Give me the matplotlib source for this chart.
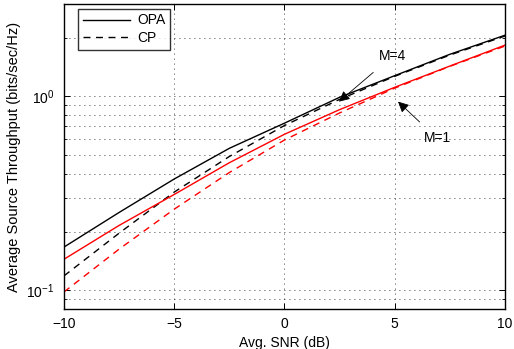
import matplotlib
matplotlib.use("Agg")
import matplotlib.pyplot as plt
from matplotlib.ticker import LogLocator, NullFormatter, FixedLocator
import numpy as np

plt.rcParams['font.family'] = ['Liberation Sans', 'DejaVu Sans']
plt.rcParams['mathtext.fontset'] = 'custom'
plt.rcParams['mathtext.rm'] = 'Liberation Sans'
plt.rcParams['mathtext.it'] = 'Liberation Sans'
plt.rcParams['mathtext.default'] = 'regular'

snr_db = [-10, -7.5, -5, -2.5, 0, 2.5, 5, 7.5, 10]
opa_m4 = [0.167, 0.252, 0.375, 0.54, 0.728, 0.99, 1.28, 1.65, 2.07]
opa_m1 = [0.1445, 0.216, 0.312, 0.455, 0.638, 0.855, 1.115, 1.435, 1.84]
cp_m4 = [0.1186, 0.197, 0.321, 0.49, 0.708, 0.966, 1.27, 1.635, 2.05]
cp_m1 = [0.098, 0.163, 0.262, 0.405, 0.596, 0.822, 1.104, 1.43, 1.82]

x_ticks = [-10, -5, 0, 5, 10]
x_tick_labels = ['\u221210', '\u22125', '0', '5', '10']
y_ticks = [0.1, 1.0]
y_tick_labels = ['$10^{-1}$', '$10^{0}$']
legend_labels = ['OPA', 'CP']

fig = plt.figure(figsize=(5.14, 3.49), dpi=100)
ax = fig.add_axes([0.1245, 0.1146, 0.858, 0.874])

lw = 1.0
dash = (5, 4)
ax.plot(snr_db, opa_m4, color='black', lw=lw, label=legend_labels[0])
ax.plot(snr_db, cp_m4, color='black', lw=lw, linestyle=(0, dash), label=legend_labels[1])
ax.plot(snr_db, opa_m1, color='red', lw=lw)
ax.plot(snr_db, cp_m1, color='red', lw=lw, linestyle=(0, dash))

ax.set_yscale('log')
ax.set_xlim(-10, 10)
ax.set_ylim(0.08, 3.0)
ax.xaxis.set_major_locator(FixedLocator(x_ticks))
ax.set_xticklabels(x_tick_labels)
ax.yaxis.set_major_locator(FixedLocator(y_ticks))
ax.set_yticklabels(y_tick_labels)
ax.yaxis.set_minor_locator(LogLocator(base=10, subs=np.arange(2, 10)))
ax.yaxis.set_minor_formatter(NullFormatter())

ax.tick_params(which='both', direction='in', top=True, right=True, labelsize=10, colors='black')
ax.tick_params(which='major', length=4, width=0.7)
ax.tick_params(which='minor', length=2, width=0.6)
ax.tick_params(axis='x', pad=6)
ax.tick_params(axis='y', pad=7)

gs = (0, (1, 5))
ax.grid(True, which='major', axis='both', color='black', linestyle=gs, lw=0.6)
ax.grid(True, which='minor', axis='y', color='black', linestyle=gs, lw=0.6)
for s in ax.spines.values():
    s.set_linewidth(1.0)

ax.set_xlabel('Avg. SNR (dB)', fontsize=10, labelpad=3)
ax.set_ylabel('Average Source Throughput (bits/sec/Hz)', fontsize=10.5, labelpad=4)

leg = ax.legend(loc='upper left', fontsize=10, frameon=True, fancybox=False,
                edgecolor='black', handlelength=3.4, borderpad=0.35,
                labelspacing=0.25, handletextpad=0.5, borderaxespad=0.0,
                bbox_to_anchor=(0.032, 0.985))
leg.get_frame().set_linewidth(1.0)

ax.annotate('M=4', xy=(2.47, 0.94), xytext=(4.88, 1.61), fontsize=10,
            ha='center', va='center',
            arrowprops=dict(arrowstyle='-|>', color='black', lw=0.6,
                            shrinkA=7, shrinkB=0, mutation_scale=16))
ax.annotate('M=1', xy=(5.15, 0.94), xytext=(6.92, 0.607), fontsize=10,
            ha='center', va='center',
            arrowprops=dict(arrowstyle='-|>', color='black', lw=0.6,
                            shrinkA=7, shrinkB=0, mutation_scale=16))

fig.savefig('out.png', dpi=100)
